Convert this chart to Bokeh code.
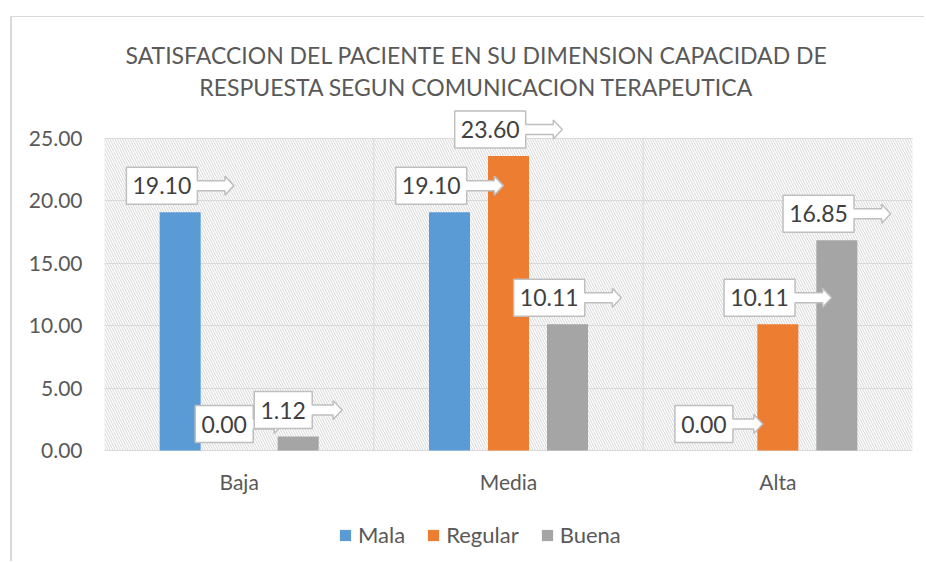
from bokeh.plotting import figure
from bokeh.models import (FixedTicker, BoxAnnotation, Label, Legend,
                          LegendItem, NumeralTickFormatter, Range1d, ColumnDataSource)
from bokeh.core.properties import value
from bokeh.embed import file_html
from bokeh.resources import INLINE

# ---- data ----
categories = ["Baja", "Media", "Alta"]
series_names = ["Mala", "Regular", "Buena"]
mala = [19.10, 19.10, 0.00]
regular = [0.00, 23.60, 10.11]
buena = [1.12, 10.11, 16.85]
colors = ["#5b9bd5", "#ed7d31", "#a5a5a5"]
y_ticks = [0, 5, 10, 15, 20, 25]
title_lines = ["SATISFACCION DEL PACIENTE EN SU DIMENSION CAPACIDAD DE",
               "RESPUESTA SEGUN COMUNICACION TERAPEUTICA"]

FONT = "Lato"
OX, OY = 12, 17            # canvas origin on the page
W, H = 926 - OX, 562 - OY
PL, PR, PT, PB = 104, 912, 138, 450   # plot area on the page
NCAT = len(categories)
YMAX = 25
px_x = NCAT / (PR - PL)
px_y = YMAX / (PB - PT)
YTOP = (PB - OY) * px_y
YBOT = -(562 - PB) * px_y

p = figure(width=W, height=H, x_range=Range1d(0, NCAT), y_range=Range1d(YBOT, YTOP),
           output_backend="svg", toolbar_location=None,
           min_border_left=PL - OX, min_border_right=926 - PR,
           min_border_top=0, min_border_bottom=0)
p.margin = (16, 0, 0, 10)
p.styles = {"border-top": "1px solid #d9d9d9", "border-left": "2px solid #d9d9d9"}
p.background_fill_color = "white"
p.border_fill_color = "white"
p.outline_line_color = None

# hatched plot area + its border
p.add_layout(BoxAnnotation(left=0, right=NCAT, bottom=0, top=YMAX, fill_alpha=0,
                           line_color=None, hatch_pattern="\\", hatch_scale=5,
                           hatch_color="#d6d6d6", hatch_weight=1, level="image"))
p.add_layout(BoxAnnotation(left=0, right=NCAT, bottom=0, top=YMAX, fill_alpha=0,
                           line_color="#d9d9d9", line_width=1, level="underlay"))

# axes
p.xaxis.ticker = FixedTicker(ticks=[i + 0.5 for i in range(NCAT)])
p.xaxis.major_label_overrides = {i + 0.5: c for i, c in enumerate(categories)}
p.xaxis.fixed_location = 0
p.yaxis.ticker = FixedTicker(ticks=y_ticks)
p.yaxis.formatter = NumeralTickFormatter(format="0.00")
for ax in (p.xaxis[0], p.yaxis[0]):
    ax.axis_line_color = None
    ax.major_tick_line_color = None
    ax.minor_tick_line_color = None
    ax.major_tick_out = 0
    ax.major_tick_in = 0
    ax.major_label_text_font = FONT
    ax.major_label_text_font_size = "21px"
    ax.major_label_text_color = "#595959"
p.yaxis.major_label_standoff = 22
p.xaxis.major_label_standoff = 18

p.ygrid.ticker = FixedTicker(ticks=y_ticks)
p.ygrid.grid_line_color = "#d9d9d9"
p.xgrid.visible = False
bounds = list(range(1, NCAT))
p.segment(x0=bounds, x1=bounds, y0=[0] * len(bounds), y1=[YMAX] * len(bounds),
          line_color="#d9d9d9", line_width=1)

# bars
series = [mala, regular, buena]
offsets_px = [-59, 0, 59]
bar_w = 41 * px_x
renderers = []
for vals, col, off in zip(series, colors, offsets_px):
    xs = [i + 0.5 + off * px_x for i in range(NCAT)]
    src = ColumnDataSource(dict(x=xs, top=vals))
    r = p.vbar(x="x", top="top", width=bar_w, source=src, fill_color=col,
               line_color=None)
    renderers.append(r)

# title
tx = (476 - PL) * px_x
for line, py in zip(title_lines, [54.5, 86.7]):
    p.add_layout(Label(x=tx, y=(PB - py) * px_y, text=line, text_font=FONT,
                       text_font_size="23px", text_color="#595959",
                       text_align="center", text_baseline="middle"))

# callout labels (arrow-shaped boxes)
def callout_shape(cx, top, text):
    n = len(text)
    box_w = 13 * n + 6
    total = box_w / 0.66
    x0 = -total / 2
    x1 = x0 + box_w
    xt = total / 2
    xh = xt - 9
    yb = 8
    yt = yb + 37
    yc = (yb + yt) / 2
    pts = [(x0, yt), (x1, yt), (x1, yc + 5), (xh, yc + 5), (xh, yc + 9.5),
           (xt, yc), (xh, yc - 9.5), (xh, yc - 5), (x1, yc - 5), (x1, yb), (x0, yb)]
    xs = [cx + a * px_x for a, b in pts]
    ys = [top + b * px_y for a, b in pts]
    return xs, ys, cx + (x0 + x1) / 2 * px_x, top + yc * px_y

for vals, off in zip(series, offsets_px):
    pxs, pys, lx, ly, lt = [], [], [], [], []
    for i, v in enumerate(vals):
        t = f"{v:.2f}"
        xs, ys, tx_, ty_ = callout_shape(i + 0.5 + off * px_x, v, t)
        pxs.append(xs); pys.append(ys); lx.append(tx_); ly.append(ty_); lt.append(t)
    p.patches(xs=pxs, ys=pys, fill_color="white", line_color="#bfbfbf", line_width=1.5)
    p.text(x=lx, y=ly, text=lt, text_font=value(FONT), text_font_size=value("23px"),
           text_color="#404040", text_align="center", text_baseline="middle")

legend = Legend(items=[LegendItem(label=n, renderers=[r]) for n, r in zip(series_names, renderers)],
                orientation="horizontal", location=(234, 14),
                label_text_font=FONT, label_text_font_size="22px", label_text_color="#595959",
                glyph_width=14, glyph_height=14, label_standoff=6, spacing=21,
                padding=0, margin=0, border_line_color=None, background_fill_alpha=0)
p.add_layout(legend, "center")

open("out.html", "w").write(file_html(p, INLINE))
